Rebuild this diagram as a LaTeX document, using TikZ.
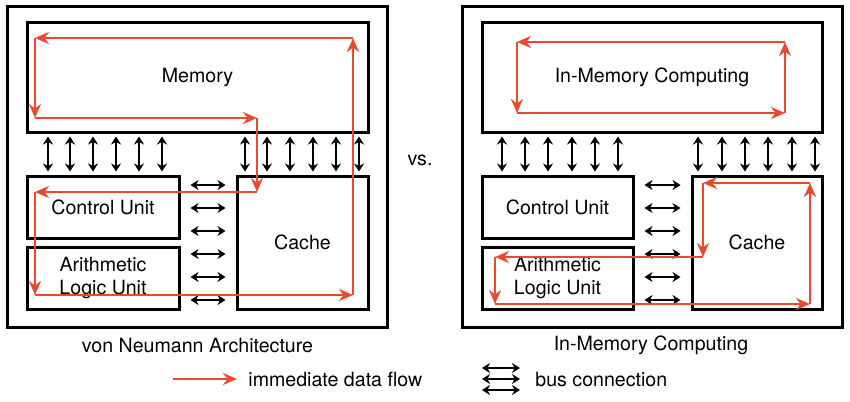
\documentclass[tikz,border=0pt]{standalone}
\usepackage{fontspec}
\setmainfont{TeX Gyre Heros}
\usepackage{xcolor}
\usepackage{tikz}
\usetikzlibrary{arrows.meta}

\definecolor{flowRed}{RGB}{233,74,46}

\begin{document}
\begin{tikzpicture}[x=0.5pt,y=-0.5pt,
    box/.style={draw, rectangle, line width=1.5pt, inner sep=0pt, align=center,
      font=\fontsize{9.8}{11.5}\selectfont},
    caption/.style={inner sep=0pt, font=\fontsize{9.8}{11.5}\selectfont},
    flow/.style={draw=flowRed, line width=1.3pt, -{Stealth[length=7pt,width=6pt]}},
    bus/.style={line width=1.2pt, {Stealth[length=4pt,width=5pt]}-{Stealth[length=4pt,width=5pt]}}]
    \useasboundingbox (0,0) rectangle (850,401);

    % von Neumann side
    \node (vnOuter) [box, minimum width=190pt, minimum height=160pt] at (197,167) {};
    \node (vnMem) [box, minimum width=170.5pt, minimum height=54.5pt] at (197.5,77.5) {Memory};
    \node (vnCtrl) [box, minimum width=76pt, minimum height=31pt] at (103,207) {Control Unit};
    \node (vnAlu) [box, minimum width=76pt, minimum height=31pt] at (103,278) {Arithmetic\\Logic Unit};
    \node (vnCache) [box, minimum width=65.5pt, minimum height=66.5pt] at (302.5,242.5) {Cache};

    % in-memory side
    \node (imOuter) [box, minimum width=190pt, minimum height=160pt] at (652,167) {};
    \node (imMem) [box, minimum width=170pt, minimum height=54.5pt] at (652,77.5) {In-Memory Computing};
    \node (imCtrl) [box, minimum width=75.5pt, minimum height=31pt] at (557.5,207) {Control Unit};
    \node (imAlu) [box, minimum width=75.5pt, minimum height=31pt] at (557.5,278) {Arithmetic\\Logic Unit};
    \node (imCache) [box, minimum width=65pt, minimum height=66.5pt] at (757,242.5) {Cache};

    % bus connections
    \foreach \x in {48,70,93,116,139,162}
      \draw[bus, shorten <=1.5pt, shorten >=1.5pt] (vnMem.south -| \x,0) -- (vnCtrl.north -| \x,0);
    \foreach \x in {245,267,290,313,336,359}
      \draw[bus, shorten <=1.5pt, shorten >=1.5pt] (vnMem.south -| \x,0) -- (vnCache.north -| \x,0);
    \foreach \x in {502,525,548,572,595,618}
      \draw[bus, shorten <=1.5pt, shorten >=1.5pt] (imMem.south -| \x,0) -- (imCtrl.north -| \x,0);
    \foreach \x in {698,722,745,768,792,815}
      \draw[bus, shorten <=1.5pt, shorten >=1.5pt] (imMem.south -| \x,0) -- (imCache.north -| \x,0);
    \foreach \y in {185,208,231,254,277,300} {
      \draw[bus, shorten <=5pt, shorten >=5pt] (vnCtrl.east |- 0,\y) -- (vnCache.west |- 0,\y);
      \draw[bus, shorten <=5pt, shorten >=5pt] (imCtrl.east |- 0,\y) -- (imCache.west |- 0,\y);
    }

    % immediate data flow, von Neumann
    \coordinate (a1) at (353,38);
    \coordinate (a2) at (35,38);
    \coordinate (a3) at (35,118);
    \coordinate (a4) at (257,118);
    \coordinate (a5) at (257,192);
    \coordinate (a6) at (35,192);
    \coordinate (a7) at (35,295);
    \coordinate (a8) at (353,295);
    \draw[flow] (a1) -- (a2);
    \draw[flow] (a2) -- (a3);
    \draw[flow] (a3) -- (a4);
    \draw[flow] (a4) -- (a5);
    \draw[flow] (a5) -- (a6);
    \draw[flow] (a6) -- (a7);
    \draw[flow] (a7) -- (a8);
    \draw[flow] (a8) -- (a1);

    % immediate data flow, in-memory
    \coordinate (b1) at (785,42);
    \coordinate (b2) at (517,42);
    \coordinate (b3) at (517,113);
    \coordinate (b4) at (785,113);
    \draw[flow] (b1) -- (b2);
    \draw[flow] (b2) -- (b3);
    \draw[flow] (b3) -- (b4);
    \draw[flow] (b4) -- (b1);
    \coordinate (c1) at (810,183);
    \coordinate (c2) at (703,183);
    \coordinate (c3) at (703,257);
    \coordinate (c4) at (495,257);
    \coordinate (c5) at (495,304);
    \coordinate (c6) at (810,304);
    \draw[flow] (c1) -- (c2);
    \draw[flow] (c2) -- (c3);
    \draw[flow] (c3) -- (c4);
    \draw[flow] (c4) -- (c5);
    \draw[flow] (c5) -- (c6);
    \draw[flow] (c6) -- (c1);

    % captions
    \node (versus) [caption] at (420,160) {vs.};
    \node (vnTitle) [caption] at (197.5,345) {von Neumann Architecture};
    \node (imTitle) [caption] at (651,345) {In-Memory Computing};

    % legend
    \coordinate (flowStart) at (173,379);
    \coordinate (flowEnd) at (237,379);
    \draw[flow] (flowStart) -- (flowEnd);
    \node (flowText) [caption, anchor=west] at (248,379) {immediate data flow};
    \coordinate (busLeft) at (482,379);
    \coordinate (busRight) at (520,379);
    \draw[bus] ([yshift=5.5pt]busLeft) -- ([yshift=5.5pt]busRight);
    \draw[bus] (busLeft) -- (busRight);
    \draw[bus] ([yshift=-5.5pt]busLeft) -- ([yshift=-5.5pt]busRight);
    \node (busText) [caption, anchor=west] at (535,379) {bus connection};
  \end{tikzpicture}
\end{document}
